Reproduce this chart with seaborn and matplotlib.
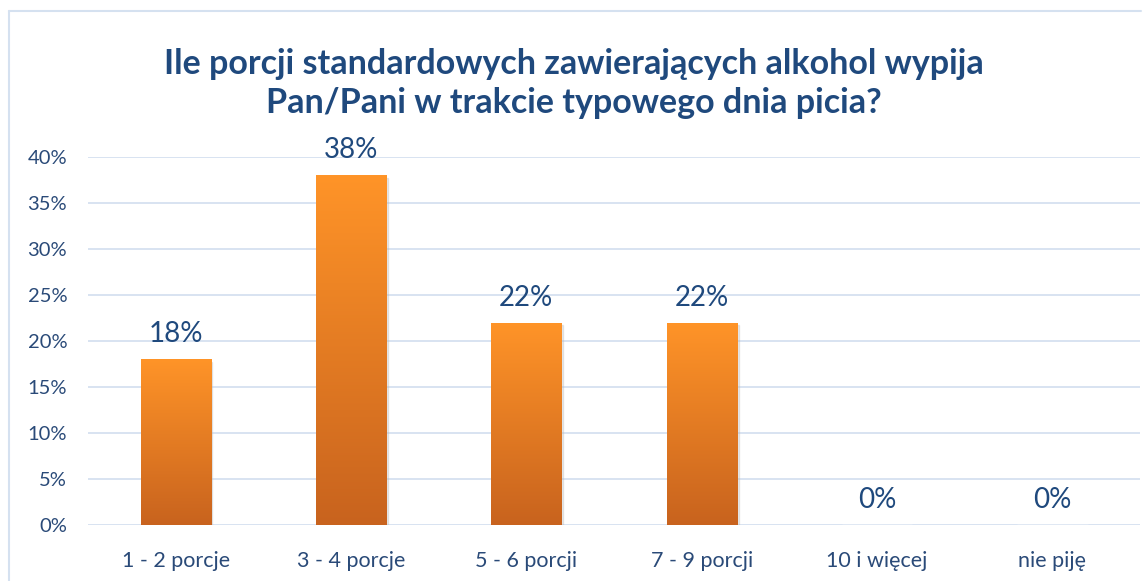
import numpy as np
import pandas as pd
import matplotlib
matplotlib.use("Agg")
import matplotlib.pyplot as plt
import seaborn as sns
from matplotlib.colors import LinearSegmentedColormap
from matplotlib.lines import Line2D

# data
categories = ["1 - 2 porcje", "3 - 4 porcje", "5 - 6 porcji", "7 - 9 porcji", "10 i więcej", "nie piję"]
shares = [18, 38, 22, 22, 0, 0]
title = "Ile porcji standardowych zawierających alkohol wypija\nPan/Pani w trakcie typowego dnia picia?"

df = pd.DataFrame({"kategoria": categories, "udzial": shares})

sns.set_style("white")
plt.rcParams["font.family"] = ["Lato", "DejaVu Sans"]

text_col = "#1F497D"
tick_col = "#2A4A78"
grid_col = "#D5E1F0"

fig = plt.figure(figsize=(11.47, 5.81), dpi=100)
ax = fig.add_axes([0.0767, 0.0964, 0.9173, 0.6334])

sns.barplot(data=df, x="kategoria", y="udzial", color="#F08A24", width=0.4, ax=ax, zorder=3)

# orange vertical gradient instead of flat fill
cmap = LinearSegmentedColormap.from_list("og", ["#C8631E", "#FF9428"])
grad = np.linspace(0, 1, 256).reshape(-1, 1)
for p in ax.patches:
    x0, y0 = p.get_x(), p.get_y()
    w, h = p.get_width(), p.get_height()
    if h <= 0:
        continue
    p.set_facecolor("none")
    p.set_edgecolor("none")
    # soft shadow
    ax.add_patch(plt.Rectangle((x0 + 0.01, y0 - 0.25), w, h, color="#BBBBBB", alpha=0.35, zorder=2))
    im = ax.imshow(grad, extent=[x0, x0 + w, y0, y0 + h], origin="lower", cmap=cmap,
                   aspect="auto", zorder=3)
    im.set_clip_path(p)

for i, v in enumerate(shares):
    ax.text(i, v + 1.3, f"{v}%", ha="center", va="bottom", fontsize=20, color=text_col)

ax.set_xlim(-0.5, len(categories) - 0.5)
ax.set_ylim(0, 40)
ax.set_yticks(range(0, 41, 5))
ax.set_yticklabels([f"{t}%" for t in range(0, 41, 5)])
ax.yaxis.grid(True, color=grid_col, linewidth=1.3, zorder=0)
ax.set_axisbelow(True)
for s in ax.spines.values():
    s.set_visible(False)
ax.tick_params(axis="y", length=0, labelsize=14.5, colors=tick_col, pad=15)
ax.tick_params(axis="x", length=0, labelsize=15.5, colors=tick_col, pad=19)
ax.set_xlabel("")
ax.set_ylabel("")

fig.text(0.5, 0.918, title, ha="center", va="top", fontsize=24.5, fontweight="bold",
         color=text_col, linespacing=1.3)

# chart frame (left and top edges visible)
fig.add_artist(Line2D([0.0075, 0.0075], [0, 0.981], color=grid_col, linewidth=1.5))
fig.add_artist(Line2D([0.0075, 0.995], [0.981, 0.981], color=grid_col, linewidth=1.5))

fig.savefig("out.png", dpi=100)
